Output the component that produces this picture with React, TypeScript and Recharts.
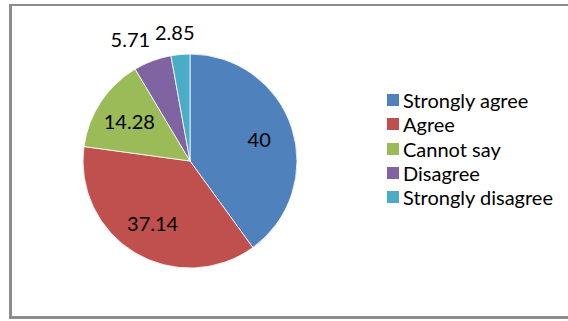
import { PieChart, Pie, Cell, Legend } from "recharts";

const categories = ["Strongly agree", "Agree", "Cannot say", "Disagree", "Strongly disagree"];
const values = [40, 37.14, 14.28, 5.71, 2.85];
const colors = ["#4F81BD", "#C0504D", "#9BBB59", "#8064A2", "#4BACC6"];

const data = categories.map((name, i) => ({ name, value: values[i] }));

const FONT = "Lato, 'Open Sans', sans-serif";
const RAD = Math.PI / 180;

function renderLabel(props: any) {
  const { cx, cy, midAngle, outerRadius, value } = props;
  const cos = Math.cos(-midAngle * RAD);
  const sin = Math.sin(-midAngle * RAD);
  const text = String(value);
  let x: number;
  let y: number;
  if (value >= 10) {
    const r = outerRadius * 0.68;
    x = cx + r * cos;
    y = cy + r * sin;
  } else {
    // small slices: label outside, nudged sideways by its own width
    const r = outerRadius + 23;
    const w = text.length * 10;
    x = cx + r * cos + w * cos;
    y = cy + r * sin;
  }
  return (
    <text x={x} y={y} fill="#000" fontSize={20} fontFamily={FONT} textAnchor="middle" dominantBaseline="central">
      {text}
    </text>
  );
}

function LegendContent() {
  return (
    <div style={{ fontFamily: FONT, fontSize: 20, color: "#000" }}>
      {data.map((d, i) => (
        <div key={d.name} style={{ display: "flex", alignItems: "center", height: 24.3 }}>
          <span style={{ width: 12, height: 12, background: colors[i], marginRight: 4, display: "inline-block" }} />
          <span style={{ whiteSpace: "nowrap" }}>{d.name}</span>
        </div>
      ))}
    </div>
  );
}

export default function App() {
  return (
    <div style={{ position: "absolute", left: 0, top: 0, width: 568, height: 321, overflow: "hidden", background: "#fff" }}>
      <div
        style={{
          position: "absolute", left: 9, top: 4, width: 620, height: 315,
          border: "2px solid #8c8c8c", borderLeftWidth: 3, borderBottomWidth: 3, boxSizing: "border-box",
        }}
      />
      <div style={{ position: "absolute", left: 0, top: 0 }}>
        <PieChart width={568} height={321} margin={{ top: 0, right: 0, bottom: 0, left: 0 }}>
          <Pie
            data={data}
            dataKey="value"
            nameKey="name"
            cx={190}
            cy={161}
            outerRadius={107}
            startAngle={90}
            endAngle={-270}
            stroke="#fff"
            strokeWidth={0.8}
            label={renderLabel}
            labelLine={false}
            isAnimationActive={false}
          >
            {data.map((d, i) => (
              <Cell key={d.name} fill={colors[i]} />
            ))}
          </Pie>
          <Legend
            layout="vertical"
            content={<LegendContent />}
            wrapperStyle={{ position: "absolute", left: 387, top: 88, width: 180 }}
          />
        </PieChart>
      </div>
    </div>
  );
}
